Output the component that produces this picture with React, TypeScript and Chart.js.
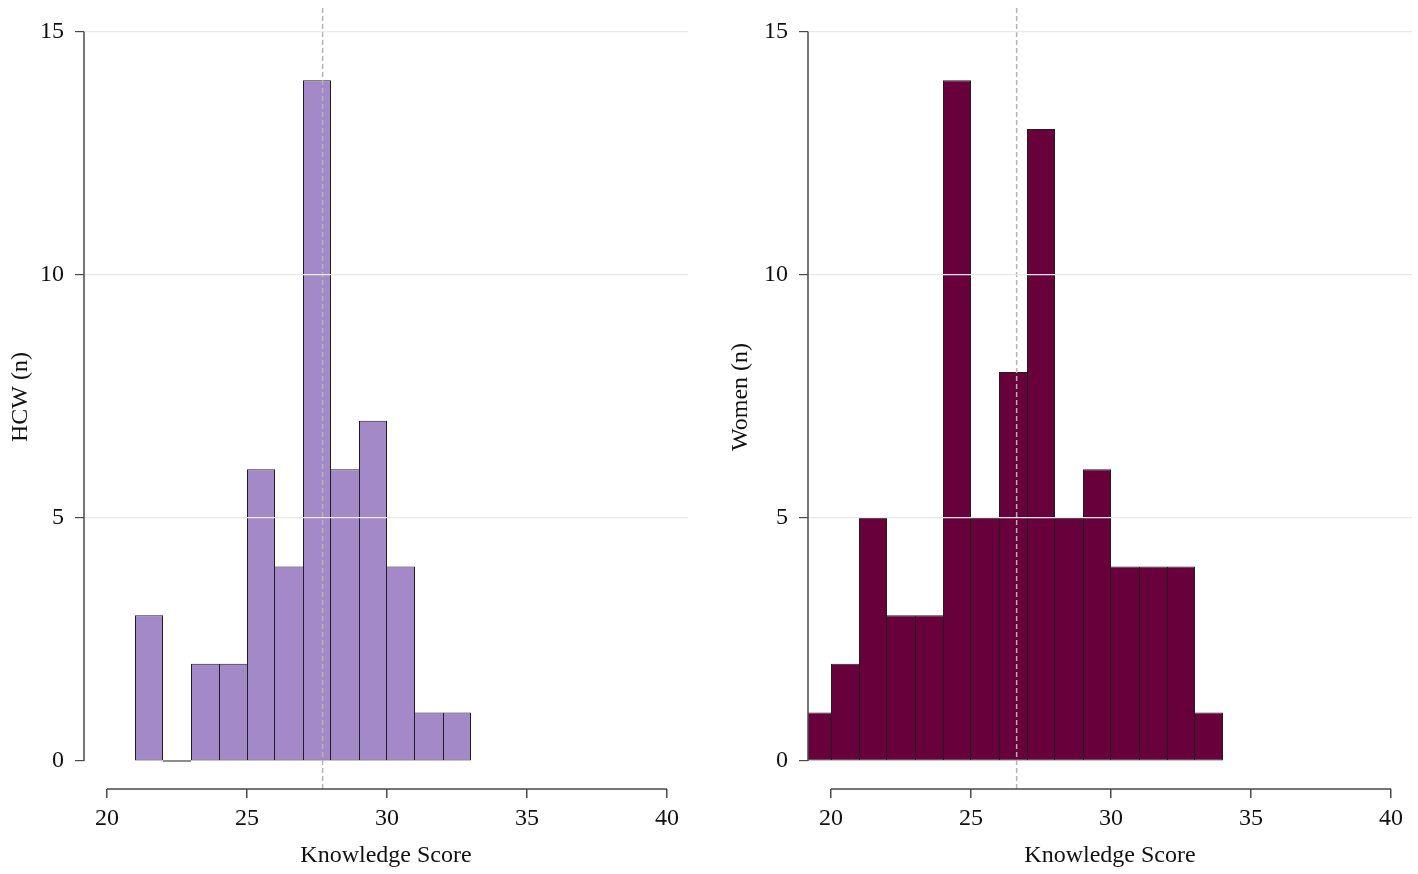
import { useEffect, useRef } from 'react';
import { Chart, registerables } from 'chart.js';
Chart.register(...registerables);

// histogram bins (lower edges, width 1) and counts
const hcwBinStarts = [21, 22, 23, 24, 25, 26, 27, 28, 29, 30, 31, 32];
const hcwCounts = [3, 0, 2, 2, 6, 4, 14, 6, 7, 4, 1, 1];
const womenBinStarts = [19, 20, 21, 22, 23, 24, 25, 26, 27, 28, 29, 30, 31, 32, 33];
const womenCounts = [1, 2, 5, 3, 3, 14, 5, 8, 13, 5, 6, 4, 4, 4, 1];
// dashed reference lines
const hcwMarker = 27.7;
const womenMarker = 26.63;
const xTicks = [20, 25, 30, 35, 40];
const yTicks = [0, 5, 10, 15];

// axis ranges picked so one score point is a whole 28 px (no seams between bars)
const X_MIN = 537 / 28;
const X_MAX = 1141 / 28;
const Y_MIN = -0.576;
const Y_MAX = 15.55;
const FONT = 'Liberation Serif';
const AXIS = '#4a4a4a';

Chart.defaults.font.family = FONT;

const axisLines = {
  id: 'axisLines',
  afterDraw(chart: any) {
    const { ctx, chartArea, scales } = chart;
    const x = scales.x;
    const y = scales.y;
    ctx.save();
    ctx.strokeStyle = AXIS;
    ctx.lineWidth = 1.5;
    ctx.beginPath();
    ctx.moveTo(chartArea.left, y.getPixelForValue(yTicks[0]));
    ctx.lineTo(chartArea.left, y.getPixelForValue(yTicks[yTicks.length - 1]));
    ctx.moveTo(x.getPixelForValue(xTicks[0]), chartArea.bottom);
    ctx.lineTo(x.getPixelForValue(xTicks[xTicks.length - 1]), chartArea.bottom);
    ctx.stroke();
    ctx.restore();
  },
};

type PanelProps = {
  yTitle: string;
  starts: number[];
  counts: number[];
  marker: number;
  color: string;
  width: number;
  padRight: number;
  titlePad: number;
};

function Panel({ yTitle, starts, counts, marker, color, width, padRight, titlePad }: PanelProps) {
  const ref = useRef<HTMLCanvasElement | null>(null);

  useEffect(() => {
    if (!ref.current) return;
    const last = counts.length - 1;
    const zeroLines = starts
      .map((s, i) => ({ s, c: counts[i] }))
      .filter((b) => b.c === 0)
      .map((b) => ({
        type: 'line' as const,
        data: [
          { x: b.s, y: 0 },
          { x: b.s + 1, y: 0 },
        ],
        borderColor: '#1e1e1e',
        borderWidth: 1,
        pointRadius: 0,
        order: 1,
      }));

    const c = new Chart(ref.current, {
      type: 'bar',
      data: {
        datasets: [
          {
            type: 'line',
            data: [
              { x: marker, y: Y_MIN },
              { x: marker, y: Y_MAX },
            ],
            borderColor: '#b4b4b4',
            borderWidth: 1.5,
            borderDash: [5, 3],
            pointRadius: 0,
            order: 0,
          },
          ...zeroLines,
          {
            type: 'bar',
            data: starts.map((s, i) => ({ x: s + 0.5, y: counts[i] })),
            backgroundColor: color,
            borderColor: '#1e1e1e',
            borderWidth: (ctx: any) => {
              const i = ctx.dataIndex;
              return {
                top: 1,
                bottom: 1,
                left: i === 0 || counts[i - 1] <= counts[i] ? 1 : 0,
                right: i === last || counts[i + 1] < counts[i] ? 1 : 0,
              };
            },
            borderSkipped: false,
            inflateAmount: 0,
            barPercentage: 1,
            categoryPercentage: 1,
            clip: 0,
            order: 2,
          } as any,
        ],
      },
      options: {
        animation: false,
        responsive: true,
        maintainAspectRatio: false,
        events: [],
        layout: { padding: { top: 5, bottom: 0, left: 0, right: padRight } },
        plugins: { legend: { display: false }, tooltip: { enabled: false } },
        scales: {
          x: {
            type: 'linear',
            min: X_MIN,
            max: X_MAX,
            offset: false,
            afterBuildTicks: (s: any) => {
              s.ticks = xTicks.map((v) => ({ value: v }));
            },
            afterFit: (s: any) => {
              s.height = 85;
              s.paddingLeft = 0;
              s.paddingRight = 0;
            },
            grid: {
              offset: false,
              drawOnChartArea: false,
              drawTicks: true,
              tickLength: 9,
              tickColor: AXIS,
              lineWidth: 1.5,
            },
            border: { display: false },
            ticks: { color: '#111', font: { size: 24 }, padding: 6, maxRotation: 0, autoSkip: false },
            title: {
              display: true,
              text: 'Knowledge Score',
              color: '#111',
              font: { size: 24 },
              padding: { top: 0, bottom: 4 },
            },
          },
          y: {
            type: 'linear',
            min: Y_MIN,
            max: Y_MAX,
            afterBuildTicks: (s: any) => {
              s.ticks = yTicks.map((v) => ({ value: v }));
            },
            afterFit: (s: any) => {
              s.width = 84;
              s.paddingTop = 0;
              s.paddingBottom = 0;
            },
            grid: {
              z: 1,
              color: (ctx: any) => (ctx.tick && ctx.tick.value > 0 ? '#e9e9e9' : 'rgba(0,0,0,0)'),
              tickColor: AXIS,
              tickLength: 9,
              lineWidth: 1.2,
            },
            border: { display: false },
            ticks: { color: '#111', font: { size: 24 }, padding: 11 },
            title: {
              display: true,
              text: yTitle,
              color: '#111',
              font: { size: 24 },
              padding: { top: titlePad, bottom: 0 },
            },
          },
        },
      } as any,
      plugins: [axisLines],
    });
    return () => c.destroy();
  }, []);

  return (
    <div style={{ position: 'relative', width, height: 874 }}>
      <canvas ref={ref} />
    </div>
  );
}

export default function App() {
  return (
    <div style={{ position: 'fixed', left: 0, top: 0, width: 1418, height: 874, display: 'flex', background: '#fff' }}>
      <Panel
        yTitle="HCW (n)"
        starts={hcwBinStarts}
        counts={hcwCounts}
        marker={hcwMarker}
        color="#a389c7"
        width={724}
        padRight={36}
        titlePad={6}
      />
      <Panel
        yTitle="Women (n)"
        starts={womenBinStarts}
        counts={womenCounts}
        marker={womenMarker}
        color="#67003b"
        width={694}
        padRight={6}
        titlePad={2}
      />
    </div>
  );
}
